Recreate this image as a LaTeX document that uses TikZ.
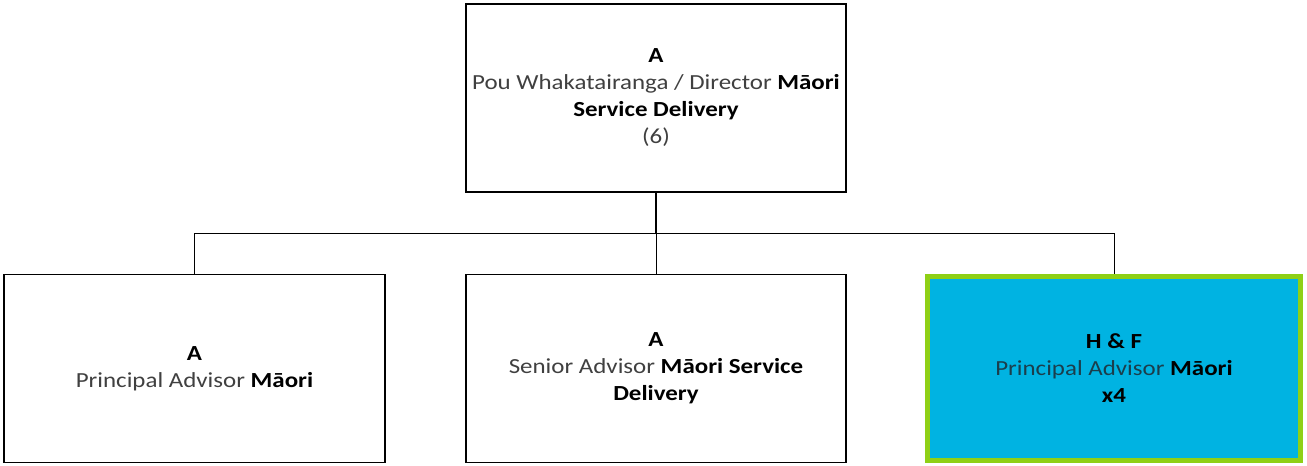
\documentclass[tikz,border=0pt]{standalone}
\usepackage{fontspec}
\setmainfont[FakeStretch=1.16]{Carlito}
\usepackage{xcolor}
\usepackage{tikz}
\usetikzlibrary{positioning,calc}
\definecolor{roleGrey}{HTML}{404040}
\definecolor{roleTeal}{HTML}{1B3E4C}
\definecolor{skyFill}{HTML}{00B3E2}
\definecolor{limeEdge}{HTML}{8FD016}

\begin{document}
\begin{tikzpicture}[x=1pt, y=1pt,
  role/.style={draw, line width=1.3pt, minimum width=380pt, minimum height=188pt,
    inner sep=0pt, align=center, text=roleGrey, font=\fontsize{21.5}{27}\selectfont},
  newrole/.style={role, fill=skyFill, draw=limeEdge, line width=5pt,
    minimum width=373pt, minimum height=184pt, text=roleTeal},
  link/.style={line width=1pt}]
  \useasboundingbox (0,0) rectangle (1307,466);
  \node[role] (dir) at (656,368) {\textcolor{black}{\textbf{A}}\\Pou Whakatairanga / Director \textcolor{black}{\textbf{Māori}}\\\textcolor{black}{\textbf{Service Delivery}}\\(6)};
  \node[role, minimum width=381pt] (pam) at (194.5,97.5) {\textcolor{black}{\textbf{A}}\\Principal Advisor \textcolor{black}{\textbf{Māori}}};
  \node[role] (sam) at (656,97.5) {\textcolor{black}{\textbf{A}}\\Senior Advisor \textcolor{black}{\textbf{Māori Service}}\\\textcolor{black}{\textbf{Delivery}}};
  \node[newrole] (pax) at (1114,97.5) {\textcolor{black}{\textbf{H \& F}}\\Principal Advisor \textcolor{black}{\textbf{Māori}}\\\textcolor{black}{\textbf{x4}}};
  \coordinate (bus) at ($(dir.south)!0.5!(sam.north)$);
  \draw[line width=2.6pt] (dir.south) -- (bus);
  \draw[link] (bus) -- (sam.north);
  \draw[link] (pam.north) |- (bus) -| (pax.north);
\end{tikzpicture}
\end{document}
